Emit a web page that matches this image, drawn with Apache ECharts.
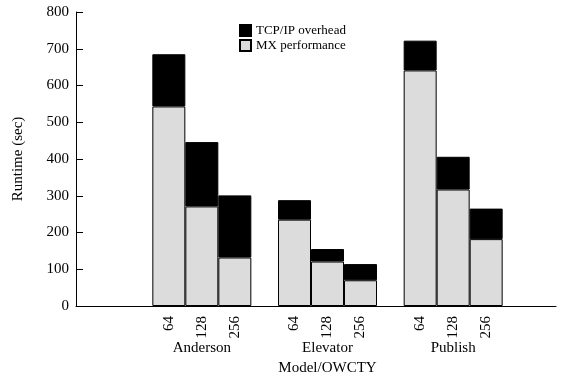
<!DOCTYPE html>
<html>
<head>
<meta charset="utf-8">
<script src="https://cdn.jsdelivr.net/npm/echarts@6/dist/echarts.min.js"></script>
<style>
  html, body { margin: 0; padding: 0; background: #fff; }
  #chart { width: 571px; height: 375px; }
</style>
</head>
<body>
<div id="chart"></div>
<script>
// groups (models) and processor counts
const groups = ['Anderson', 'Elevator', 'Publish'];
const procs = ['64', '128', '256'];
// MX performance (sec), per processor count, one value per group
const mx64 = [543, 235, 641];
const mx128 = [271, 121, 317];
const mx256 = [132, 70, 182];
// extra TCP/IP overhead (sec) on top of MX
const tcp64 = [142, 53, 81];
const tcp128 = [175, 34, 89];
const tcp256 = [169, 44, 83];
const yTicks = [0, 100, 200, 300, 400, 500, 600, 700, 800];

const mxData = [mx64, mx128, mx256];
const tcpData = [tcp64, tcp128, tcp256];

const font = 'Liberation Serif';
const chart = echarts.init(document.getElementById('chart'));

const series = [];
procs.forEach((p, k) => {
  series.push({
    name: 'MX performance',
    type: 'bar',
    xAxisIndex: 1,
    yAxisIndex: 1,
    stack: 'p' + p,
    barWidth: 33,
    barGap: '0%',
    data: mxData[k],
    itemStyle: { color: '#dcdcdc', borderColor: '#000', borderWidth: 1 },
    label: {
      show: true,
      position: 'bottom',
      distance: 10,
      rotate: 90,
      align: 'right',
      verticalAlign: 'middle',
      formatter: p,
      fontFamily: font,
      fontSize: 15,
      color: '#000'
    }
  });
  series.push({
    name: 'TCP/IP overhead',
    type: 'bar',
    xAxisIndex: 1,
    yAxisIndex: 1,
    stack: 'p' + p,
    barWidth: 33,
    barGap: '0%',
    data: tcpData[k],
    itemStyle: { color: '#000', borderColor: '#000', borderWidth: 1 }
  });
});

chart.setOption({
  animation: false,
  textStyle: { fontFamily: font, color: '#000' },
  grid: [
    // frame grid: y axis and the full-width x axis line
    { left: 76, right: 15, top: 12, bottom: 69, containLabel: false, outerBoundsMode: 'none' },
    // bar grid: one category per model
    { left: 139, right: 55, top: 12, bottom: 69, containLabel: false, outerBoundsMode: 'none' }
  ],
  legend: {
    orient: 'vertical',
    left: 234,
    top: 19,
    itemWidth: 11,
    itemHeight: 11,
    itemGap: 2,
    icon: 'rect',
    data: ['TCP/IP overhead', 'MX performance'],
    textStyle: { fontFamily: font, fontSize: 13, color: '#000' }
  },
  xAxis: [
    {
      gridIndex: 0,
      type: 'value',
      min: 0,
      max: 1,
      axisLine: { show: true, lineStyle: { color: '#000', width: 1 } },
      axisTick: { show: false },
      axisLabel: { show: false },
      splitLine: { show: false }
    },
    {
      gridIndex: 1,
      type: 'category',
      data: groups,
      name: 'Model/OWCTY',
      nameLocation: 'middle',
      nameGap: 47,
      nameTextStyle: { fontFamily: font, fontSize: 15, color: '#000' },
      axisLine: { show: false },
      axisTick: { show: false },
      axisLabel: { margin: 35, fontFamily: font, fontSize: 15, color: '#000' }
    }
  ],
  yAxis: [
    {
      gridIndex: 0,
      type: 'value',
      min: yTicks[0],
      max: yTicks[yTicks.length - 1],
      interval: 100,
      name: 'Runtime (sec)',
      nameLocation: 'middle',
      nameGap: 50,
      nameTextStyle: { fontFamily: font, fontSize: 15, color: '#000' },
      axisLine: { show: true, lineStyle: { color: '#000', width: 1 } },
      axisTick: { show: true, inside: true, length: 7, lineStyle: { color: '#000' } },
      splitLine: { show: false },
      axisLabel: { margin: 7, fontFamily: font, fontSize: 15, color: '#000' }
    },
    {
      gridIndex: 1,
      type: 'value',
      min: yTicks[0],
      max: yTicks[yTicks.length - 1],
      show: false,
      splitLine: { show: false }
    }
  ],
  series: series
});
</script>
</body>
</html>
